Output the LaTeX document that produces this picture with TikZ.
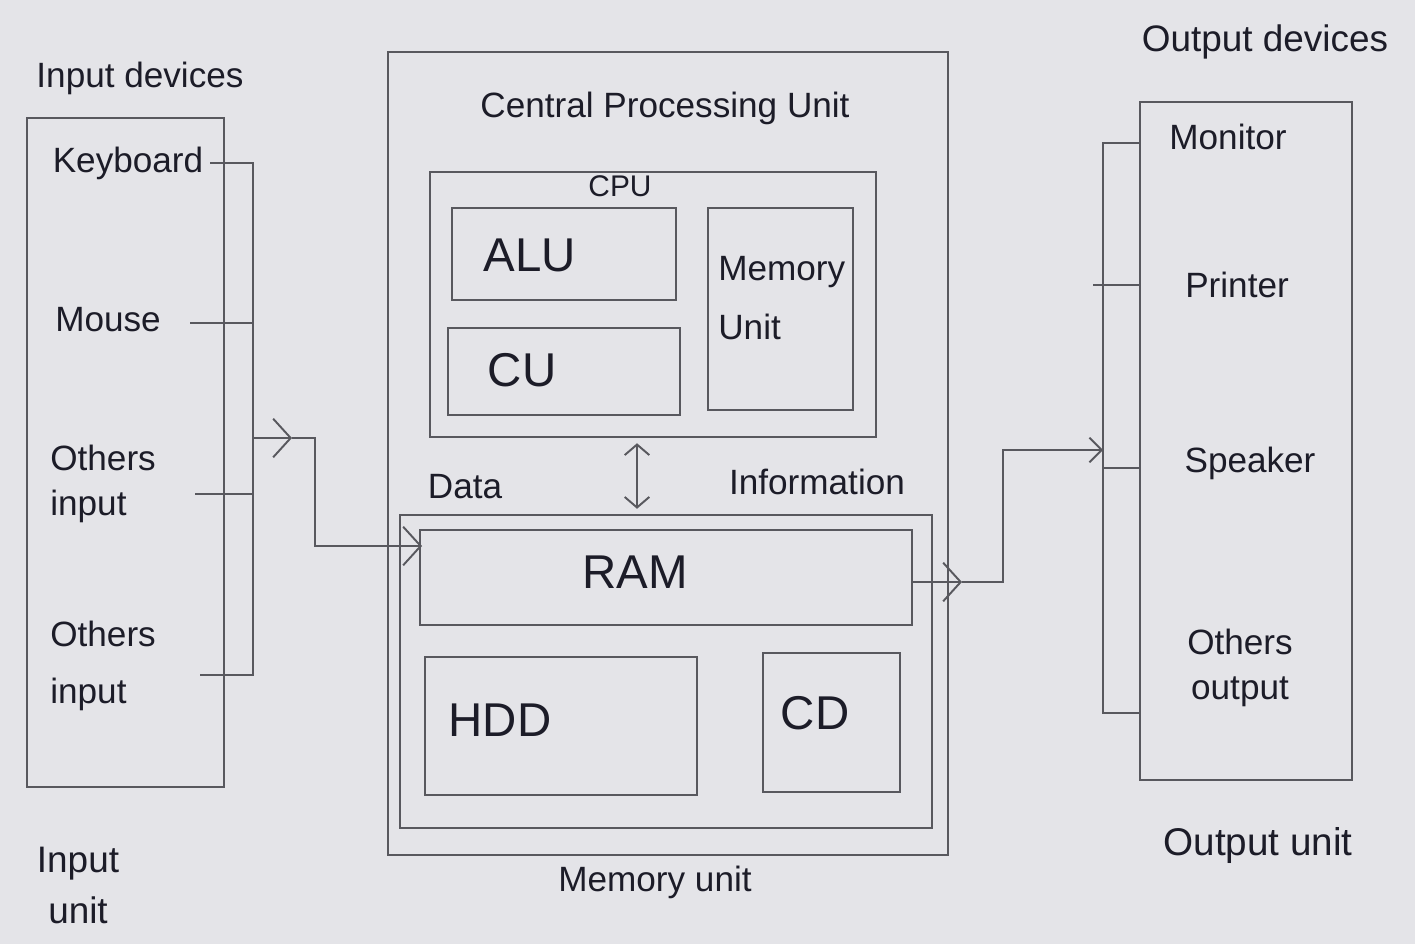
\documentclass[tikz,border=0pt]{standalone}
\usepackage{fontspec}
\setmainfont{Liberation Sans}
\usetikzlibrary{arrows.meta,fit}
\definecolor{paper}{RGB}{228,228,232}
\definecolor{pencil}{RGB}{88,88,94}
\definecolor{ink}{RGB}{28,28,40}
\begin{document}
\begin{tikzpicture}[x=0.02cm,y=-0.02cm,
  box/.style={draw=pencil,line width=1.1pt,inner sep=0pt},
  lbl/.style={text=ink,inner sep=0pt,font=\fontsize{20}{34}\selectfont},
  tight/.style={text=ink,inner sep=0pt,font=\fontsize{20}{26}\selectfont},
  big/.style={lbl,font=\fontsize{27}{32}\selectfont},
  small/.style={lbl,font=\fontsize{17}{20}\selectfont},
  mid/.style={lbl,font=\fontsize{20}{24}\selectfont},
  wire/.style={draw=pencil,line width=1.1pt},
  barb/.style={-{Straight Barb[length=10pt,width=22pt]}},
  dbarb/.style={{Straight Barb[length=6pt,width=14pt]}-{Straight Barb[length=6pt,width=14pt]}}
]
\fill[paper] (0,0) rectangle (1415,944);
\useasboundingbox (0,0) rectangle (1415,944);

% ---------------- Input unit ----------------
\node[lbl] (indev) at (140,78) {Input devices};
\node[box,fit={(27,118) (224,787)}] (inbox) {};
\node[lbl] (kb) at (128,163) {Keyboard};
\node[lbl] (mouse) at (108,320) {Mouse};
\node[tight,align=left,anchor=west] (oi1) at (50,484) {Others\\input};
\node[tight,align=left,anchor=west,font=\fontsize{20}{32}\selectfont] (oi2) at (50,666) {Others\\input};
\node[tight,align=center,font=\fontsize{21}{29}\selectfont] (inunit) at (78,885) {Input\\unit};

\coordinate (kbR) at (210,163);
\coordinate (msR) at (190,323);
\coordinate (oi1R) at (195,494);
\coordinate (oi2R) at (200,675);
\coordinate (busTop) at (253,163);
\coordinate (busBot) at (253,675);
\draw[wire] (kbR) -- (busTop) -- (busBot) -- (oi2R);
\draw[wire] (msR) -- (msR -| busTop);
\draw[wire] (oi1R) -- (oi1R -| busTop);

\coordinate (busA) at (253,438);
\coordinate (midA) at (292,438);
\coordinate (turnA) at (315,438);
\coordinate (ramIn) at (422,546);
\draw[wire,barb] (busA) -- (midA);
\draw[wire,barb] (midA) -- (turnA) |- (ramIn);

% ---------------- Central Processing Unit ----------------
\node[box,fit={(388,52) (948,855)}] (outer) {};
\node[lbl] (title) at (665,108) {Central Processing Unit};
\node[box,fit={(430,172) (876,437)}] (cpu) {};
\node[small] (cpulbl) at (620,186) {CPU};
\node[box,fit={(452,208) (676,300)}] (alu) {};
\node[big] (alut) at (530,255) {ALU};
\node[box,fit={(448,328) (680,415)}] (cu) {};
\node[big] (cut) at (522,370) {CU};
\node[box,fit={(708,208) (853,410)}] (mu) {};
\node[lbl,align=left,anchor=west] (mut) at (718,298) {Memory\\Unit};

\node[box,fit={(400,515) (932,828)}] (memu) {};
\node[box,fit={(420,530) (912,625)}] (ram) {};
\node[big] (ramt) at (635,572) {RAM};
\node[box,fit={(425,657) (697,795)}] (hdd) {};
\node[big] (hddt) at (500,720) {HDD};
\node[box,fit={(763,653) (900,792)}] (cd) {};
\node[big] (cdt) at (815,713) {CD};
\node[lbl] (memlbl) at (655,882) {Memory unit};

\coordinate (dx) at (637,0);
\draw[wire,dbarb] ([yshift=-3pt]cpu.south -| dx) -- ([yshift=3pt]memu.north -| dx);
\node[mid] (data) at (465,487) {Data};
\node[mid] (info) at (817,482) {Information};

% ---------------- Output unit ----------------
\node[lbl,font=\fontsize{21}{26}\selectfont] (outdev) at (1265,42) {Output devices};
\node[box,fit={(1140,102) (1352,780)}] (outbox) {};
\node[lbl] (mon) at (1228,137) {Monitor};
\node[lbl] (prn) at (1237,285) {Printer};
\node[lbl] (spk) at (1250,463) {Speaker};
\node[tight,align=center] (oo) at (1240,668) {Others\\output};
\node[lbl,font=\fontsize{22}{26}\selectfont] (outunit) at (1258,845) {Output unit};

\coordinate (obTop) at (1103,143);
\coordinate (obBot) at (1103,713);
\draw[wire] (outbox.west |- obTop) -- (obTop) -- (obBot) -- (outbox.west |- obBot);
\coordinate (prnL) at (1093,285);
\draw[wire] (prnL) -- (outbox.west |- prnL);
\coordinate (spkL) at (1103,468);
\draw[wire] (spkL) -- (outbox.west |- spkL);

\coordinate (ramOut) at (912,582);
\coordinate (midB) at (962,582);
\coordinate (turnB) at (1003,582);
\coordinate (outIn) at (1103,450);
\draw[wire,barb] (ramOut) -- (midB);
\draw[wire,-{Straight Barb[length=7pt,width=14pt]}] (midB) -- (turnB) |- (outIn);
\end{tikzpicture}
\end{document}
